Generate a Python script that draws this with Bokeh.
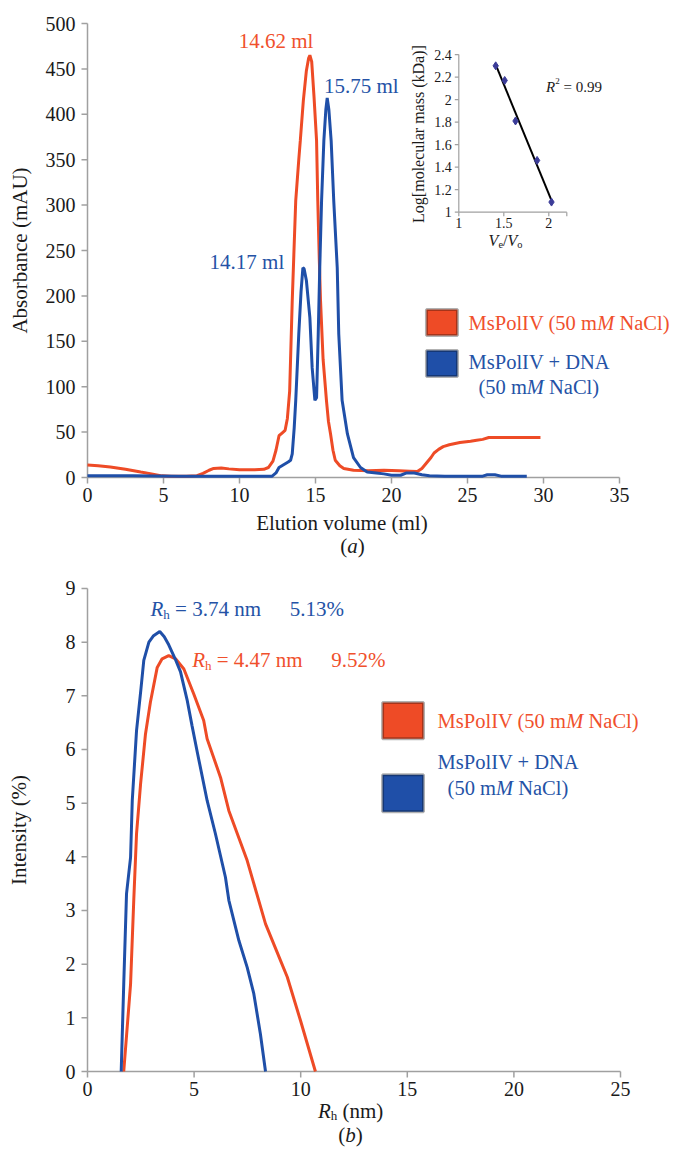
import numpy as np
from bokeh.plotting import figure
from bokeh.models import Range1d, Label, BoxAnnotation
from bokeh.layouts import column
from bokeh.core.properties import value
from bokeh.embed import file_html
from bokeh.resources import INLINE

# ---------------- data ----------------
# (a) size-exclusion chromatography
sec_red_x = [0, 0.7, 1.5, 2.5, 3.5, 4.3, 4.9, 5.5, 6.5, 7.2, 7.6, 8.0, 8.3, 8.8, 9.3, 10.0,
             11.0, 11.6, 11.9, 12.2, 12.4, 12.6, 12.8, 13.0, 13.15, 13.3, 13.47, 13.7, 13.9,
             14.0, 14.2, 14.4, 14.55, 14.63, 14.75, 14.9, 15.07, 15.15, 15.25, 15.33, 15.5,
             15.72, 15.85, 15.99, 16.15, 16.3, 16.6, 16.86, 17.5, 18.5, 19.5, 20.5, 21.2,
             21.7, 22.0, 22.3, 22.6, 22.8, 23.1, 23.4, 23.8, 24.5, 25.2, 25.6, 26.0, 26.4,
             27.5, 28.5, 29.8]
sec_red_y = [13.7, 13, 11.5, 9, 6, 3.7, 1.8, 1.5, 1.5, 2, 4.5, 8, 10, 10.5, 9.5, 8.5,
             8.5, 9, 11, 18, 30, 46, 49, 52, 65, 95, 195, 305, 350,
             371, 415, 448, 462, 465, 458, 420, 371, 305, 240, 195, 130,
             85, 62, 48, 30, 19, 13, 10, 8, 7.5, 8, 7.5, 7,
             6.5, 10, 16, 22, 27, 31, 34, 36, 38.5, 40, 41, 42, 44,
             44, 44, 44]
sec_blue_x = [0, 3, 6, 9, 11, 12.15, 12.4, 12.6, 12.9, 13.2, 13.36, 13.47, 13.6, 13.7, 13.9,
              14.05, 14.17, 14.25, 14.4, 14.63, 14.78, 14.96, 15.07, 15.18, 15.28, 15.4,
              15.55, 15.68, 15.77, 15.88, 16.03, 16.2, 16.43, 16.53, 16.75, 17.1, 17.5,
              17.96, 18.4, 19.0, 19.5, 20.0, 20.6, 21.0, 21.5, 22.0, 22.5, 23.5, 25.0,
              26.0, 26.3, 26.8, 27.2, 28.0, 28.9]
sec_blue_y = [1.8, 1.8, 1.5, 1.5, 1.5, 1.5, 5, 11, 14, 17, 19, 26, 55, 85, 158,
              205, 231, 230, 217, 176, 121, 85, 88, 158, 231, 305,
              371, 405, 418, 405, 371, 305, 231, 158, 85, 48, 22,
              11, 6, 5, 4, 2.5, 2.5, 5, 5, 3, 2, 1.5, 1.5,
              1.5, 3, 3, 1.5, 1.5, 1.5]
sec_x_ticks = [0, 5, 10, 15, 20, 25, 30, 35]
sec_y_ticks = [0, 50, 100, 150, 200, 250, 300, 350, 400, 450, 500]

# inset calibration
cal_ve_vo = [1.41, 1.51, 1.63, 1.87, 2.03]
cal_logmw = [2.30, 2.17, 1.81, 1.46, 1.09]
cal_x_ticks = [1, 1.5, 2]
cal_x_labels = ["1", "1.5", "2"]
cal_y_ticks = [1, 1.2, 1.4, 1.6, 1.8, 2, 2.2, 2.4]
cal_y_labels = ["1", "1.2", "1.4", "1.6", "1.8", "2", "2.2", "2.4"]
cal_x_end = 2.2

# (b) dynamic light scattering
dls_red_rh = [1.70, 2.02, 2.17, 2.30, 2.49, 2.72, 2.95, 3.27, 3.50, 3.81, 4.13, 4.52, 4.98,
              5.45, 5.61, 6.24, 6.63, 7.49, 8.35, 9.05, 9.37, 9.99, 10.69]
dls_red_int = [0, 1.63, 3.19, 4.43, 5.36, 6.29, 6.88, 7.53, 7.69, 7.75, 7.69, 7.50, 7.04,
               6.54, 6.20, 5.48, 4.86, 3.93, 2.75, 2.07, 1.76, 0.95, 0]
dls_blue_rh = [1.58, 1.70, 1.83, 2.02, 2.10, 2.20, 2.30, 2.50, 2.64, 2.88, 3.10, 3.39, 3.60,
               3.81, 4.10, 4.36, 4.68, 4.90, 5.15, 5.61, 6.00, 6.47, 6.63, 7.10, 7.49,
               7.80, 8.11, 8.35]
dls_blue_int = [0, 1.63, 3.31, 3.99, 5.05, 5.70, 6.35, 7.10, 7.66, 8.00, 8.12, 8.20, 8.10,
                7.95, 7.70, 7.45, 6.91, 6.45, 5.95, 5.05, 4.43, 3.62, 3.19, 2.44, 1.94,
                1.45, 0.70, 0]
dls_x_ticks = [0, 5, 10, 15, 20, 25]
dls_y_ticks = [0, 1, 2, 3, 4, 5, 6, 7, 8, 9]

# ---------------- styling ----------------
FONT = "Liberation Serif"
RED = "#EE4B26"
BLUE = "#1F4FA8"
RED_TXT = "#F0502C"
BLUE_TXT = "#2452A6"
AX = "#A0A0A0"
INK = "#1a1a1a"
LEG = 20.5

W_R = {' ': .25, '(': .333, ')': .333, '+': .564, '=': .564, '.': .25, '%': .833, '/': .278,
       '[': .333, ']': .333, 'A': .722, 'C': .667, 'D': .722, 'I': .333, 'M': .889, 'N': .722,
       'P': .556, 'R': .667, 'V': .722, 'a': .444, 'h': .5, 'l': .278, 'm': .778, 'n': .5,
       'o': .5, 's': .389, 'e': .444, 'b': .5}
W_I = {'M': .833, 'R': .611, 'V': .611, 'a': .5, 'e': .444, 'o': .5, 'h': .5, 'b': .5}


def tw(s, italic, size):
    table = W_I if italic else W_R
    return sum(table.get(c, 0.5) for c in s) * size


def rich(p, x, y, pieces, size, color, align="left", xr="default", yr="default"):
    widths = [tw(t, it, size * sc) for t, it, sc, dy in pieces]
    off = 0.0 if align == "left" else -sum(widths) / 2
    for (t, it, sc, dy), w in zip(pieces, widths):
        lead = len(t) - len(t.lstrip(' '))
        st = t.strip(' ')
        if st:
            p.add_layout(Label(x=x, y=y, x_offset=off + tw(t[:lead], it, size * sc), y_offset=dy,
                               text=st, text_font=FONT,
                               text_font_style="italic" if it else "normal",
                               text_font_size=f"{size * sc:.1f}px", text_color=color,
                               text_align="left", text_baseline="alphabetic",
                               x_range_name=xr, y_range_name=yr))
        off += w


def span(v0, p0, k, size, down=False):
    # data range for a frame of `size` px where value v0 sits at pixel p0 (k px per unit)
    if down:  # pixel measured from the top
        return Range1d(v0 - (size - p0) / k, v0 + p0 / k)
    return Range1d(v0 - p0 / k, v0 + (size - p0) / k)


def draw_axes(p, xticks, yticks, kx, ky, xlabels=None, ylabels=None, tick=6, size="20px",
              lw=1.5, xoff=17, yoff=-12, **kw):
    x0, x1, y0, y1 = xticks[0], xticks[-1], yticks[0], yticks[-1]
    xlabels = xlabels or [f"{t:g}" for t in xticks]
    ylabels = ylabels or [f"{t:g}" for t in yticks]
    p.segment(x0=[x0, x0], y0=[y0, y0], x1=[x1, x0], y1=[y0, y1], line_color=AX, line_width=lw,
              **kw)
    n, m = len(xticks), len(yticks)
    p.segment(x0=xticks, x1=xticks, y0=[y0] * n, y1=[y0 - tick / ky] * n, line_color=AX,
              line_width=lw, **kw)
    p.segment(x0=[x0] * m, x1=[x0 - tick / kx] * m, y0=yticks, y1=yticks, line_color=AX,
              line_width=lw, **kw)
    p.text(x=xticks, y=[y0] * n, text=xlabels, y_offset=xoff, text_font=value(FONT),
           text_font_size=value(size), text_color=INK, text_align="center",
           text_baseline="middle", **kw)
    p.text(x=[x0] * m, y=yticks, text=ylabels, x_offset=yoff, text_font=value(FONT),
           text_font_size=value(size), text_color=INK, text_align="right",
           text_baseline="middle", **kw)


def new_fig(w, h, xr, yr):
    p = figure(width=w, height=h, x_range=xr, y_range=yr, output_backend="svg",
               toolbar_location=None, x_axis_location=None, y_axis_location=None, min_border=0)
    p.grid.visible = False
    p.outline_line_color = None
    return p


# ---------------- (a) ----------------
W, H1, H2 = 672, 562, 595
KX1, KY1 = 15.2, 0.908
p1 = new_fig(W, H1, span(0, 87, KX1, W), span(0, 477, KY1, H1, down=True))
draw_axes(p1, sec_x_ticks, sec_y_ticks, KX1, KY1)

p1.line(sec_red_x, sec_red_y, line_color=RED, line_width=3)
p1.line(sec_blue_x, sec_blue_y, line_color=BLUE, line_width=3)

rich(p1, 12.40, 480.5, [("14.62 ml", False, 1, 0)], 21, RED_TXT, align="center")
rich(p1, 18.01, 431.7, [("15.75 ml", False, 1, 0)], 21, BLUE_TXT, align="center")
rich(p1, 10.49, 236.8, [("14.17 ml", False, 1, 0)], 21, BLUE_TXT, align="center")

p1.add_layout(Label(x=-4.41, y=250, text="Absorbance (mAU)", angle=np.pi / 2, text_font=FONT,
                    text_font_size="21px", text_color=INK, text_align="center",
                    text_baseline="middle"))
rich(p1, 16.97, -49.6, [("Elution volume (ml)", False, 1, 0)], 21, INK, align="center")
rich(p1, 17.43, -74.9, [("(", False, 1, 0), ("a", True, 1, 0), (")", False, 1, 0)], 21, INK,
     align="center")

# legend (a)
p1.add_layout(BoxAnnotation(left=22.30, right=24.34, bottom=156.4, top=185.0, fill_color=RED,
                            fill_alpha=1, line_color="black", line_width=3))
p1.add_layout(BoxAnnotation(left=22.30, right=24.34, bottom=111.2, top=139.9, fill_color=BLUE,
                            fill_alpha=1, line_color="black", line_width=3))
rich(p1, 25.07, 170.7, [("MsPolIV (50 m", False, 1, 0), ("M", True, 1, 0), (" NaCl)", False, 1, 0)],
     LEG, RED_TXT)
rich(p1, 25.07, 126.7, [("MsPolIV + DNA", False, 1, 0)], LEG, BLUE_TXT)
rich(p1, 25.72, 100.2, [("(50 m", False, 1, 0), ("M", True, 1, 0), (" NaCl)", False, 1, 0)],
     LEG, BLUE_TXT)

# inset (calibration) drawn on its own ranges
KXI, KYI = 90, 112.6
p1.extra_x_ranges = {"ix": span(1, 458.3, KXI, W)}
p1.extra_y_ranges = {"iy": span(1, 211.7, KYI, H1, down=True)}
IX = dict(x_range_name="ix", y_range_name="iy")
draw_axes(p1, cal_x_ticks + [cal_x_end], cal_y_ticks, KXI, KYI,
          xlabels=cal_x_labels + [""], ylabels=cal_y_labels, tick=4, size="14px", lw=1.2,
          xoff=11, yoff=-7, **IX)
slope, icept = np.polyfit(cal_ve_vo, cal_logmw, 1)
fx = np.array([min(cal_ve_vo), max(cal_ve_vo) + 0.01])
p1.line(fx, slope * fx + icept, line_color="black", line_width=2, **IX)
p1.scatter(cal_ve_vo, cal_logmw, marker="diamond", size=8, fill_color="#3B3C98",
           line_color="#3B3C98", **IX)
p1.add_layout(Label(x=0.552, y=1.694, text="Log[molecular mass (kDa)]", angle=np.pi / 2,
                    text_font=FONT, text_font_size="16px", text_color=INK, text_align="center",
                    text_baseline="middle", x_range_name="ix", y_range_name="iy"))
rich(p1, 1.97, 2.116, [("R", True, 1, 0), ("2", False, 0.6, 6), (" = 0.99", False, 1, 0)], 15, INK,
     xr="ix", yr="iy")
rich(p1, 1.519, 0.745, [("V", True, 1, 0), ("e", False, 0.65, -4), ("/", False, 1, 0),
                        ("V", True, 1, 0), ("o", False, 0.65, -4)], 16, INK, align="center",
     xr="ix", yr="iy")

# ---------------- (b) ----------------
KX2, KY2 = 21.32, 53.667
p2 = new_fig(W, H2, span(0, 87, KX2, W), span(0, 1071 - H1, KY2, H2, down=True))
draw_axes(p2, dls_x_ticks, dls_y_ticks, KX2, KY2)

p2.line(dls_red_rh, dls_red_int, line_color=RED, line_width=3)
p2.line(dls_blue_rh, dls_blue_int, line_color=BLUE, line_width=3)

rich(p2, 2.955, 8.61, [("R", True, 1, 0), ("h", False, 0.62, -5), (" = 3.74 nm", False, 1, 0)],
     21, BLUE_TXT)
rich(p2, 9.49, 8.61, [("5.13%", False, 1, 0)], 21, BLUE_TXT)
rich(p2, 4.91, 7.66, [("R", True, 1, 0), ("h", False, 0.62, -5), (" = 4.47 nm", False, 1, 0)],
     21, RED_TXT)
rich(p2, 11.43, 7.66, [("9.52%", False, 1, 0)], 21, RED_TXT)

p2.add_layout(BoxAnnotation(left=13.84, right=15.76, bottom=6.20, top=6.875, fill_color=RED,
                            fill_alpha=1, line_color="black", line_width=3))
p2.add_layout(BoxAnnotation(left=13.84, right=15.76, bottom=4.84, top=5.53, fill_color=BLUE,
                            fill_alpha=1, line_color="black", line_width=3))
rich(p2, 16.42, 6.54, [("MsPolIV (50 m", False, 1, 0), ("M", True, 1, 0), (" NaCl)", False, 1, 0)],
     LEG, RED_TXT)
rich(p2, 16.42, 5.76, [("MsPolIV + DNA", False, 1, 0)], LEG, BLUE_TXT)
rich(p2, 16.89, 5.29, [("(50 m", False, 1, 0), ("M", True, 1, 0), (" NaCl)", False, 1, 0)],
     LEG, BLUE_TXT)

p2.add_layout(Label(x=-3.236, y=4.5, text="Intensity (%)", angle=np.pi / 2, text_font=FONT,
                    text_font_size="21px", text_color=INK, text_align="center",
                    text_baseline="middle"))
rich(p2, 12.34, -0.727, [("R", True, 1, 0), ("h", False, 0.62, -5), (" (nm)", False, 1, 0)], 21,
     INK, align="center")
rich(p2, 12.34, -1.174, [("(", False, 1, 0), ("b", True, 1, 0), (")", False, 1, 0)], 21, INK,
     align="center")

layout = column(p1, p2, spacing=0)
open("out.html", "w").write(file_html(layout, INLINE))
